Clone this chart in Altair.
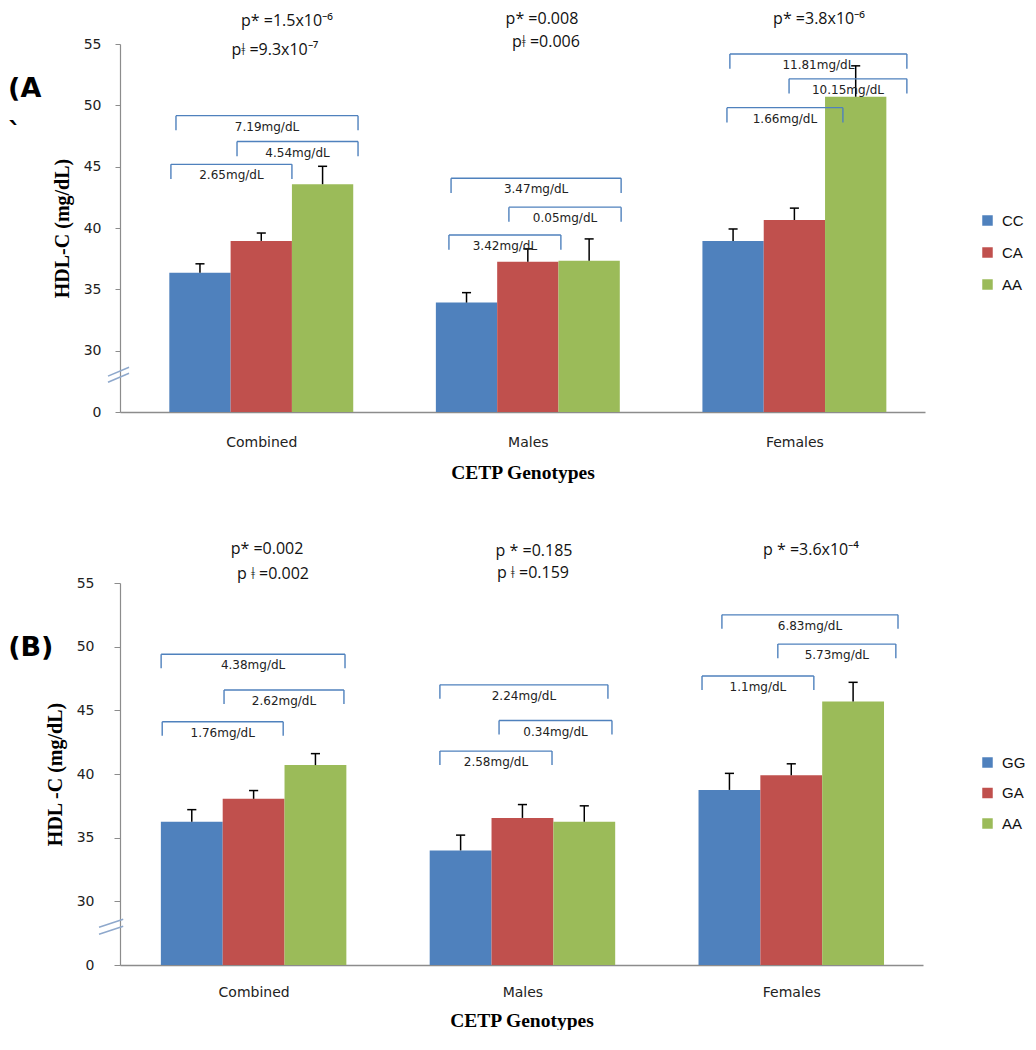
import altair as alt
import pandas as pd

# ---------------- data ----------------
groups = ["Combined", "Males", "Females"]
genotypes_a = ["CC", "CA", "AA"]
genotypes_b = ["GG", "GA", "AA"]
bar_colors = ["#4F81BD", "#C0504D", "#9BBB59"]

# mean HDL-C per group (rows) and genotype (cols)
mean_a = [[36.35, 38.95, 43.57], [33.92, 37.24, 37.32], [38.95, 40.65, 50.70]]
sem_a = [[0.73, 0.64, 1.46], [0.81, 1.06, 1.79], [0.97, 0.97, 2.52]]
mean_b = [[36.25, 38.05, 40.70], [34.00, 36.55, 36.25], [38.75, 39.90, 45.70]]
sem_b = [[0.95, 0.65, 0.90], [1.20, 1.05, 1.25], [1.30, 0.90, 1.50]]

# difference brackets
diff_labels_a = ["2.65mg/dL", "4.54mg/dL", "7.19mg/dL", "3.42mg/dL", "0.05mg/dL",
                 "3.47mg/dL", "1.66mg/dL", "10.15mg/dL", "11.81mg/dL"]
diff_level_a = [45.19, 47.05, 49.16, 39.43, 41.70, 44.05, 49.81, 52.16, 54.19]
diff_start_a = [-0.339, -0.091, -0.320, 0.704, 0.929, 0.712, 1.747, 1.980, 1.758]
diff_end_a = [0.115, 0.363, 0.363, 1.124, 1.350, 1.350, 2.182, 2.422, 2.422]

diff_labels_b = ["1.76mg/dL", "2.62mg/dL", "4.38mg/dL", "2.58mg/dL", "0.34mg/dL",
                 "2.24mg/dL", "1.1mg/dL", "5.73mg/dL", "6.83mg/dL"]
diff_level_b = [44.1, 46.6, 49.4, 41.8, 44.2, 47.0, 47.7, 50.2, 52.5]
diff_start_b = [-0.340, -0.110, -0.344, 0.693, 0.913, 0.693, 1.668, 1.950, 1.742]
diff_end_b = [0.110, 0.336, 0.340, 1.110, 1.333, 1.318, 2.084, 2.389, 2.397]

# p-value annotations
p_text_a = ["p* =1.5x10⁻⁶", "pǂ =9.3x10⁻⁷", "p* =0.008", "pǂ =0.006", "p* =3.8x10⁻⁶"]
p_x_a = [0.096, 0.051, 1.053, 1.068, 2.092]
p_y_a = [56.87, 54.51, 57.03, 55.16, 57.03]
p_text_b = ["p* =0.002", "p ǂ =0.002", "p * =0.185", "p ǂ =0.159", "p * =3.6x10⁻⁴"]
p_x_b = [0.050, 0.072, 1.043, 1.039, 2.073]
p_y_b = [57.66, 55.70, 57.54, 55.82, 57.60]

# panel tags
tag_text_a = ["(A", "`"]
tag_x_a = [-0.950, -0.950]
tag_y_a = [51.35, 47.7]
tag_text_b = ["(B)"]
tag_x_b = [-0.913]
tag_y_b = [49.92]

# axis-break marks (two short slanted strokes)
break_a = {"x1": [-0.575, -0.575], "y1": [27.92, 27.43], "x2": [-0.496, -0.496], "y2": [28.65, 28.16]}
break_b = {"x1": [-0.575, -0.575], "y1": [27.97, 27.42], "x2": [-0.485, -0.485], "y2": [28.59, 28.05]}

BAR_W = 0.23
CAP = 0.017
BRACKET_COLOR = "#4F81BD"


def make_panel(means, sems, genos, d_labels, d_level, d_start, d_end, tick_len,
               p_text, p_x, p_y, t_text, t_x, t_y, brk, xmin, width, height, ytitle,
               ytick, ylabpad, xlabpad, xtitlepad, legend_x, legend_y, legend_row):
    xs = alt.Scale(domain=[xmin, 2.49], nice=False, zero=False)
    ys = alt.Scale(domain=[25, 55], nice=False, zero=False)
    xaxis = alt.Axis(values=[0, 1, 2],
                     labelExpr="['Combined','Males','Females'][datum.value]",
                     ticks=False, grid=False, domainColor="#8c8c8c", domainWidth=1.5,
                     labelFont="DejaVu Sans", labelFontSize=14, labelColor="#222",
                     labelPadding=xlabpad, title="CETP Genotypes",
                     titleFont="Liberation Serif", titleFontSize=19.5, titleFontWeight="bold",
                     titleColor="#000", titlePadding=xtitlepad)
    yaxis = alt.Axis(values=[25, 30, 35, 40, 45, 50, 55],
                     labelExpr="datum.value == 25 ? '0' : datum.label",
                     grid=False, domainColor="#8c8c8c", domainWidth=1.2,
                     tickColor="#8c8c8c", tickSize=ytick, labelPadding=ylabpad,
                     labelFont="DejaVu Sans", labelFontSize=14, labelColor="#222",
                     title=ytitle, titleFont="Liberation Serif", titleFontSize=20,
                     titleFontWeight="bold", titleColor="#000", titlePadding=11)

    def X(f):
        return alt.X(f, type="quantitative", scale=xs, axis=xaxis)

    def Y(f):
        return alt.Y(f, type="quantitative", scale=ys, axis=yaxis)

    rows = []
    for g in range(3):
        for k in range(3):
            xc = g + (k - 1) * BAR_W
            rows.append(dict(group=groups[g], genotype=genos[k], mean=means[g][k],
                             top=means[g][k] + sems[g][k], xc=xc,
                             x1=xc - BAR_W / 2, x2=xc + BAR_W / 2,
                             cl=xc - CAP, cr=xc + CAP))
    bars_df = pd.DataFrame(rows)

    bars = alt.Chart(bars_df).mark_rect().encode(
        x=X("x1"), x2=alt.X2("x2"), y=Y("mean"), y2=alt.datum(25),
        color=alt.Color("genotype:N", scale=alt.Scale(domain=genos, range=bar_colors),
                        legend=alt.Legend(orient="none", legendX=legend_x, legendY=legend_y,
                                          title=None, symbolType="square", symbolSize=110,
                                          symbolStrokeWidth=0, labelFont="Liberation Sans",
                                          labelFontSize=15, labelColor="#111",
                                          rowPadding=legend_row, labelOffset=7, padding=0,
                                          direction="vertical")))
    err = alt.Chart(bars_df).mark_rule(color="black", strokeWidth=1.5).encode(
        x=X("xc"), y=Y("mean"), y2=alt.Y2("top"))
    caps = alt.Chart(bars_df).mark_rule(color="black", strokeWidth=1.5).encode(
        x=X("cl"), x2=alt.X2("cr"), y=Y("top"))

    br_df = pd.DataFrame({"label": d_labels, "level": d_level, "xs": d_start, "xe": d_end})
    br_df["low"] = br_df["level"] - tick_len
    br_df["xm"] = (br_df["xs"] + br_df["xe"]) / 2
    ends_df = pd.concat([
        pd.DataFrame({"x": br_df["xs"], "level": br_df["level"], "low": br_df["low"]}),
        pd.DataFrame({"x": br_df["xe"], "level": br_df["level"], "low": br_df["low"]}),
    ])
    br_h = alt.Chart(br_df).mark_rule(color=BRACKET_COLOR, strokeWidth=1.4).encode(
        x=X("xs"), x2=alt.X2("xe"), y=Y("level"))
    br_v = alt.Chart(ends_df).mark_rule(color=BRACKET_COLOR, strokeWidth=1.4).encode(
        x=X("x"), y=Y("level"), y2=alt.Y2("low"))
    br_t = alt.Chart(br_df).mark_text(font="DejaVu Sans", fontSize=12, color="#222",
                                      dy=11, baseline="middle").encode(
        x=X("xm"), y=Y("level"), text="label:N")

    p_df = pd.DataFrame({"text": p_text, "x": p_x, "y": p_y})
    ptxt = alt.Chart(p_df).mark_text(font="Open Sans", fontSize=16, color="#111",
                                     baseline="middle").encode(
        x=X("x"), y=Y("y"), text="text:N")

    t_df = pd.DataFrame({"text": t_text, "x": t_x, "y": t_y})
    tags = alt.Chart(t_df).mark_text(font="DejaVu Sans", fontSize=27, fontWeight="bold",
                                     color="#000", align="left", baseline="middle").encode(
        x=X("x"), y=Y("y"), text="text:N")

    b_df = pd.DataFrame(brk)
    brks = alt.Chart(b_df).mark_rule(color="#8EA8CC", strokeWidth=1.5).encode(
        x=X("x1"), y=Y("y1"), x2=alt.X2("x2"), y2=alt.Y2("y2"))

    return alt.layer(bars, err, caps, br_h, br_v, br_t, ptxt, tags, brks).properties(
        width=width, height=height)


panel_a = make_panel(mean_a, sem_a, genotypes_a, diff_labels_a, diff_level_a, diff_start_a,
                     diff_end_a, 1.2, p_text_a, p_x_a, p_y_a, tag_text_a, tag_x_a, tag_y_a,
                     break_a, -0.53, 805, 368, "HDL-C (mg/dL)", 5, 14, 23, 14, 860, 169, 16)
panel_b = make_panel(mean_b, sem_b, genotypes_b, diff_labels_b, diff_level_b, diff_start_b,
                     diff_end_b, 1.1, p_text_b, p_x_b, p_y_b, tag_text_b, tag_x_b, tag_y_b,
                     break_b, -0.497, 803, 382, "HDL -C (mg/dL)", 6, 20, 20, 12, 860, 172, 14.5)

chart = alt.concat(panel_a, panel_b, columns=1, spacing=59).resolve_scale(
    color="independent", x="independent", y="independent"
).properties(padding={"top": 3, "left": 0, "right": 0, "bottom": 0}).configure_view(stroke=None)

chart.save("out.html", embed_options={"renderer": "svg", "actions": False})
